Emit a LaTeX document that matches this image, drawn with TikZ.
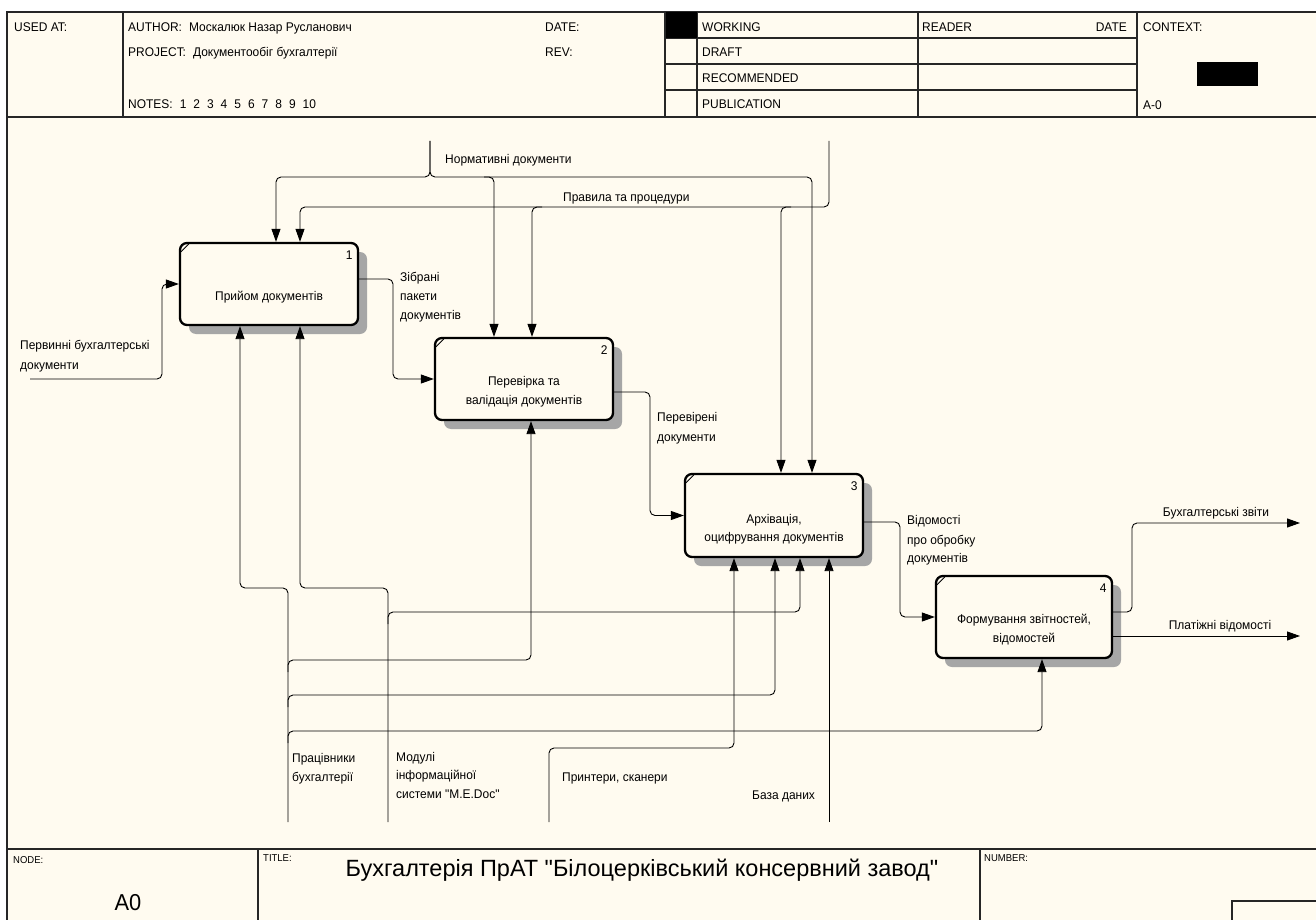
\documentclass[tikz,border=0pt]{standalone}
\usepackage{fontspec}
\setmainfont{Liberation Sans}
\newfontfamily\narrowfont[FakeStretch=0.95]{Liberation Sans}
\newfontfamily\plainfont{Liberation Sans}
\usetikzlibrary{arrows.meta,shadows}
\definecolor{bg}{HTML}{FFFBF0}
\newcommand{\qq}{\symbol{"22}}
\begin{document}
\begin{tikzpicture}[x=1pt,y=-1pt,
  every node/.style={inner sep=0pt},
  txt/.style={font=\narrowfont\fontsize{12.6}{14}\selectfont, text height=9pt, text depth=0pt, anchor=west},
  txtc/.style={txt, anchor=center},
  small/.style={font=\narrowfont\fontsize{10}{12}\selectfont, text height=7pt, text depth=0pt, anchor=west},
  frame/.style={line width=1.3pt, draw=black!85},
  proc/.style={draw, line width=2.3pt, rounded corners=7pt, fill=bg, minimum width=178pt, minimum height=82pt,
    drop shadow={shadow xshift=9pt, shadow yshift=-9pt, fill=black!35, opacity=1}},
  flow/.style={line width=0.9pt, rounded corners=5pt},
  arr/.style={flow, -{Triangle[length=13pt,width=9pt]}},
  tick/.style={line width=0.8pt}
]
\useasboundingbox (0,0) rectangle (1316,920);
\fill[white] (0,0) rectangle (1316,920);
\fill[bg] (7,12) rectangle (1316,920);

% ---------- frame ----------
\draw[frame] (1316,12) -- (7,12) -- (7,920);
\draw[frame] (7,117) -- (1316,117);
\draw[frame] (123,12) -- (123,117);
\draw[frame] (665,12) -- (665,117);
\draw[frame] (697,12) -- (697,117);
\draw[frame] (918,12) -- (918,117);
\draw[frame] (1137,12) -- (1137,117);
\draw[frame] (665,38) -- (1137,38);
\draw[frame] (665,64) -- (1137,64);
\draw[frame] (665,90) -- (1137,90);
\fill[black] (666,12) rectangle (697,38);
\fill[black] (1197,62) rectangle (1258,86);
\draw[frame] (7,849) -- (1316,849);
\draw[frame] (258,849) -- (258,920);
\draw[frame] (980,849) -- (980,920);
\draw[frame] (1232,920) -- (1232,901) -- (1316,901);

% ---------- header text ----------
\node[txt] at (14,27) {USED AT:};
\node[txt] at (128,27) {AUTHOR:\hspace{7pt}Москалюк Назар Русланович};
\node[txt] at (128,52) {PROJECT:\hspace{7pt}Документообіг бухгалтерії};
\node[txt] at (128,104) {NOTES:\hspace{7pt}1\hspace{7pt}2\hspace{7pt}3\hspace{7pt}4\hspace{7pt}5\hspace{7pt}6\hspace{7pt}7\hspace{7pt}8\hspace{7pt}9\hspace{7pt}10};
\node[txt] at (545,27) {DATE:};
\node[txt] at (545,52) {REV:};
\node[txt] at (702,27) {WORKING};
\node[txt] at (702,52) {DRAFT};
\node[txt] at (702,78) {RECOMMENDED};
\node[txt] at (702,104) {PUBLICATION};
\node[txt] at (922,27) {READER};
\node[txt, anchor=east] at (1127,27) {DATE};
\node[txt] at (1143,27) {CONTEXT:};
\node[txt] at (1143,105) {A-0};

% ---------- footer text ----------
\node[small] at (13,860) {NODE:};
\node[small] at (263,858) {TITLE:};
\node[small] at (984,858) {NUMBER:};
\node[font=\narrowfont\fontsize{23}{26}\selectfont] at (128,903) {A0};
\node[font=\plainfont\fontsize{23.5}{27}\selectfont] at (642,870) {Бухгалтерія ПрАТ \qq Білоцерківський консервний завод\qq};

% ---------- boxes ----------
\node[proc] (b1) at (269,284) {};
\node[proc] (b2) at (524,379) {};
\node[proc, minimum height=83pt] (b3) at (774,515.5) {};
\node[proc, minimum width=176pt] (b4) at (1024,617) {};

\foreach \b/\n in {b1/1,b2/2,b3/3,b4/4}{
  \draw[tick] ([xshift=2pt,yshift=-10pt]\b.north west) -- ([xshift=10pt,yshift=-2pt]\b.north west);
  \node[txtc] at ([xshift=-10pt,yshift=-13pt]\b.north east) {\n};
}
\node[txtc] at ([yshift=-12pt]b1.center) {Прийом документів};
\node[txtc] at ([yshift=-2pt]b2.center) {Перевірка та};
\node[txtc] at ([yshift=-21pt]b2.center) {валідація документів};
\node[txtc] at ([yshift=-3.5pt]b3.center) {Архівація,};
\node[txtc] at ([yshift=-21.5pt]b3.center) {оцифрування документів};
\node[txtc] at ([yshift=-2pt]b4.center) {Формування звітностей,};
\node[txtc] at ([yshift=-21pt]b4.center) {відомостей};

% ---------- controls ----------
\coordinate (nd) at (430,141);
\draw[arr] (nd) -- (430,177) -- (276,177) -- (276,0 |- b1.north);
\draw[arr] (nd) -- (430,177) -- (812,177) -- (812,0 |- b3.north);
\draw[arr] (484,177) -- (494,177) -- (494,0 |- b2.north);
\coordinate (pp) at (829,141);
\draw[arr] (pp) -- (829,207) -- (300,207) -- (300,0 |- b1.north);
\draw[arr] (542,207) -- (532,207) -- (532,0 |- b2.north);
\draw[arr] (791,207) -- (781,207) -- (781,0 |- b3.north);
\node[txt] at (445,159) {Нормативні документи};
\node[txt] at (563,197) {Правила та процедури};

% ---------- inputs / outputs ----------
\coordinate (pin) at (30,379);
\draw[arr] (pin) -- (162,379) -- (162,0 |- b1.west) -- (b1.west);
\node[txt] at (20,345) {Первинні бухгалтерські};
\node[txt] at (20,365) {документи};

\draw[arr] ([yshift=5pt]b1.east) -- (393,279) -- (393,0 |- b2.west) -- (b2.west);
\node[txt] at (400,277) {Зібрані};
\node[txt] at (400,296) {пакети};
\node[txt] at (400,315) {документів};

\draw[arr] ([yshift=-13pt]b2.east) -- (650,392) -- (650,0 |- b3.west) -- (b3.west);
\node[txt] at (657,417) {Перевірені};
\node[txt] at (657,437) {документи};

\draw[arr] ([yshift=-6.5pt]b3.east) -- (900,522) -- (900,0 |- b4.west) -- (b4.west);
\node[txt] at (907,520) {Відомості};
\node[txt] at (907,540) {про обробку};
\node[txt] at (907,558) {документів};

\coordinate (o1) at (1300,523);
\coordinate (o2) at (1300,636);
\draw[arr] ([yshift=5pt]b4.east) -- (1132,612) -- (1132,523) -- (o1);
\draw[arr] ([yshift=-19pt]b4.east) -- (o2);
\node[txtc] at (1216,512) {Бухгалтерські звіти};
\node[txtc] at (1220,625) {Платіжні відомості};

% ---------- mechanisms ----------
\coordinate (m1) at (288,822);
\coordinate (m2) at (388,822);
\coordinate (m3) at (549,822);
\coordinate (m4) at (829,822);
\draw[arr] (m1) -- (288,588) -- (240,588) -- (240,0 |- b1.south);
\draw[arr] (m2) -- (388,588) -- (300,588) -- (300,0 |- b1.south);
\draw[arr] (288,672) -- (288,660) -- (531,660) -- (531,0 |- b2.south);
\draw[arr] (288,707) -- (288,695) -- (775,695) -- (775,0 |- b3.south);
\draw[arr] (288,743) -- (288,731) -- (1042,731) -- (1042,0 |- b4.south);
\draw[arr] (388,624) -- (388,612) -- (800,612) -- (800,0 |- b3.south);
\draw[arr] (m3) -- (549,748) -- (734,748) -- (734,0 |- b3.south);
\draw[arr] (m4) -- (829,0 |- b3.south);
\node[txt] at (292,758) {Працівники};
\node[txt] at (292,777) {бухгалтерії};
\node[txt] at (396,757) {Модулі};
\node[txt] at (396,775) {інформаційної};
\node[txt] at (396,794) {системи \qq M.E.Doc\qq};
\node[txt] at (562,777) {Принтери, сканери};
\node[txt] at (752,795) {База даних};
\end{tikzpicture}
\end{document}
